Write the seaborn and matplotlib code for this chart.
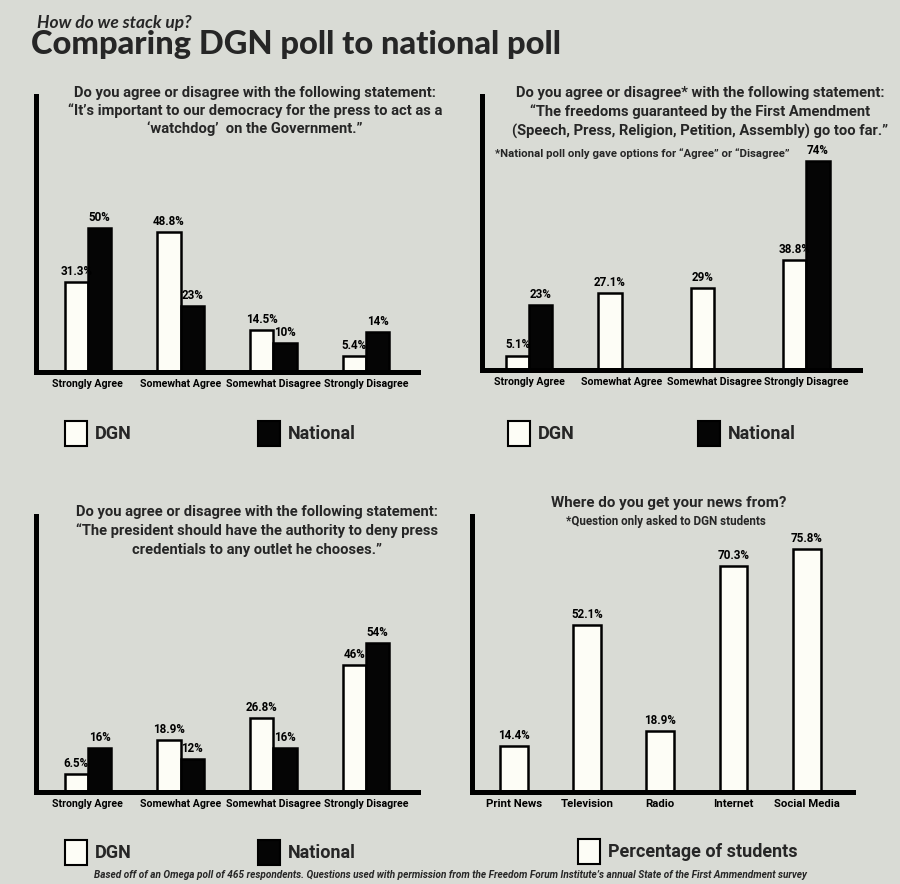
import numpy as np
import pandas as pd
import matplotlib
matplotlib.use("Agg")
import matplotlib.pyplot as plt
from matplotlib.patches import Rectangle
import seaborn as sns

# ---------------- data ----------------
answers = ["Strongly Agree", "Somewhat Agree", "Somewhat Disagree", "Strongly Disagree"]
sources = ["DGN", "National"]

q1_dgn = [31.3, 48.8, 14.5, 5.4]
q1_nat = [50, 23, 10, 14]

q2_dgn = [5.1, 27.1, 29, 38.8]
q2_nat = [23, np.nan, np.nan, 74]

q3_dgn = [6.5, 18.9, 26.8, 46]
q3_nat = [16, 12, 16, 54]

news_sources = ["Print News", "Television", "Radio", "Internet", "Social Media"]
news_pct = [14.4, 52.1, 18.9, 70.3, 75.8]

q1_title = ["Do you agree or disagree with the following statement:",
            "\u201cIt\u2019s important to our democracy for the press to act as a",
            "\u2018watchdog\u2019  on the Government.\u201d"]
q2_title = ["Do you agree or disagree* with the following statement:",
            "\u201cThe freedoms guaranteed by the First Amendment",
            "(Speech, Press, Religion, Petition, Assembly) go too far.\u201d"]
q2_note = "*National poll only gave options for \u201cAgree\u201d or \u201cDisagree\u201d"
q3_title = ["Do you agree or disagree with the following statement:",
            "\u201cThe president should have the authority to deny press",
            "credentials to any outlet he chooses.\u201d"]
q4_title = "Where do you get your news from?"
q4_note = "*Question only asked to DGN students"
footer = ("Based off of an Omega poll of 465 respondents. Questions used with permission from the "
          "Freedom Forum Institute\u2019s annual State of the First Ammendment survey")

# ---------------- style ----------------
BG = "#d9dbd5"
WHITE = "#fdfdf6"
BLACK = "#050505"
sns.set_theme(style="white")
plt.rcParams["font.family"] = ["Roboto", "DejaVu Sans"]
plt.rcParams["axes.facecolor"] = BG
plt.rcParams["figure.facecolor"] = BG

W, H = 900, 884
fig = plt.figure(figsize=(W / 100, H / 100), dpi=100)


def px_axes(x0, x1, ytop, ybot):
    return fig.add_axes([x0 / W, (H - ybot) / H, (x1 - x0) / W, (ybot - ytop) / H])


def ftext(x, y, s, **kw):
    kw.setdefault("va", "center")
    fig.text(x / W, 1 - y / H, s, **kw)


def style_axes(ax, labelsize=7.6):
    for side in ["top", "right"]:
        ax.spines[side].set_visible(False)
    for side in ["left", "bottom"]:
        ax.spines[side].set_linewidth(3.6)
        ax.spines[side].set_color("black")
        ax.spines[side].set_capstyle("projecting")
        ax.spines[side].set_zorder(5)
    ax.set_yticks([])
    ax.tick_params(axis="x", length=0, pad=5, labelsize=labelsize, labelcolor="black")
    for lab in ax.get_xticklabels():
        lab.set_fontweight("bold")
    ax.set_xlabel("")
    ax.set_ylabel("")
    ax.set_facecolor(BG)


def label_bars(ax):
    for c in ax.containers:
        labs = []
        for b in c:
            h = b.get_height()
            labs.append("" if (h is None or np.isnan(h)) else f"{h:g}%")
        ax.bar_label(c, labels=labs, padding=3, fontsize=8.4, fontweight="bold",
                     color="black")


def grouped(ax, dgn, nat, ylim, xlim):
    df = pd.DataFrame({
        "answer": answers * 2,
        "source": ["DGN"] * 4 + ["National"] * 4,
        "pct": list(dgn) + list(nat),
    })
    sns.barplot(data=df, x="answer", y="pct", hue="source", order=answers,
                hue_order=sources, palette=[WHITE, BLACK], edgecolor="black",
                linewidth=1.8, width=0.5, saturation=1, errorbar=None,
                legend=False, ax=ax)
    ax.set_ylim(0, ylim)
    ax.set_xlim(*xlim)
    style_axes(ax)
    label_bars(ax)


# ---------------- panel 1 ----------------
ax1 = px_axes(36, 418, 96, 372)
grouped(ax1, q1_dgn, q1_nat, 96, (-0.56, 3.56))

# ---------------- panel 2 ----------------
ax2 = px_axes(482, 860, 96, 370)
grouped(ax2, q2_dgn, q2_nat, 97, (-0.51, 3.58))

# ---------------- panel 3 ----------------
ax3 = px_axes(36, 418, 516, 792)
grouped(ax3, q3_dgn, q3_nat, 100, (-0.56, 3.56))

# ---------------- panel 4 ----------------
ax4 = px_axes(472, 853, 516, 792)
df4 = pd.DataFrame({"src": news_sources, "pct": news_pct})
sns.barplot(data=df4, x="src", y="pct", order=news_sources, color=WHITE,
            edgecolor="black", linewidth=1.8, width=0.38, saturation=1,
            errorbar=None, ax=ax4)
ax4.set_ylim(0, 86)
ax4.set_xlim(-0.57, 4.63)
style_axes(ax4, labelsize=8.2)
label_bars(ax4)

# ---------------- texts ----------------
ftext(37, 23, "How do we stack up?", fontsize=12.5, style="italic",
      fontweight="bold", family=["Lato", "Roboto", "DejaVu Sans"])
ftext(31, 54, "Comparing DGN poll to national poll", fontsize=23.5, fontweight="black",
      va="baseline", family=["Lato", "Roboto", "DejaVu Sans"])

for i, line in enumerate(q1_title):
    ftext(255, 93 + 18 * i, line, fontsize=10.6, fontweight="bold", ha="center")
for i, line in enumerate(q2_title):
    ftext(700, 93 + 19 * i, line, fontsize=10.6, fontweight="bold", ha="center")
ftext(495, 154, q2_note, fontsize=8.2, ha="left", fontweight="semibold")
for i, line in enumerate(q3_title):
    ftext(257, 512 + 19 * i, line, fontsize=10.6, fontweight="bold", ha="center")
ftext(669, 503, q4_title, fontsize=10.9, fontweight="bold", ha="center")
ftext(666, 522, q4_note, fontsize=8.4, fontweight="semibold", ha="center")

ftext(450, 875, footer, fontsize=7.2, style="italic", fontweight="semibold", ha="center")


# ---------------- legends ----------------
def legend_item(x, ycen, color, label):
    fig.add_artist(Rectangle((x / W, 1 - (ycen + 12.5) / H), 22 / W, 25 / H,
                             transform=fig.transFigure, facecolor=color,
                             edgecolor="black", linewidth=1.5))
    ftext(x + 30, ycen + 1, label, fontsize=13, fontweight="bold", ha="left")


legend_item(65, 433, WHITE, "DGN")
legend_item(258, 433, BLACK, "National")
legend_item(508, 433, WHITE, "DGN")
legend_item(698, 433, BLACK, "National")
legend_item(65, 852, WHITE, "DGN")
legend_item(258, 852, BLACK, "National")
legend_item(578, 851, WHITE, "Percentage of students")

fig.savefig("out.png", dpi=100, facecolor=BG)
